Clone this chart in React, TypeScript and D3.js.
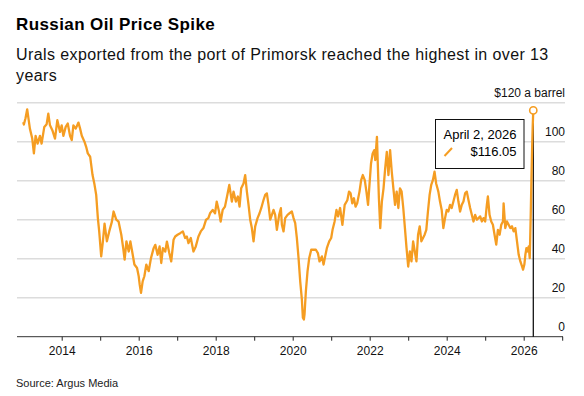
import React, { useEffect, useRef } from 'react';
import * as d3 from 'd3';

// Urals crude at Primorsk, $/bbl — [decimal year, price]
const uralsPrimorsk: [number, number][] = [
  [2013.000, 110.0], [2013.017, 108.8], [2013.060, 112.0], [2013.104, 116.6], [2013.174, 106.7],
  [2013.235, 101.6], [2013.278, 94.0], [2013.322, 103.0], [2013.374, 99.0], [2013.435, 103.0],
  [2013.478, 99.0], [2013.548, 107.6], [2013.609, 109.0], [2013.652, 114.4], [2013.696, 108.4],
  [2013.757, 105.9], [2013.826, 101.6], [2013.887, 111.0], [2013.957, 105.0], [2014.000, 108.4],
  [2014.043, 103.0], [2014.104, 107.6], [2014.157, 109.3], [2014.217, 103.0], [2014.261, 100.8],
  [2014.304, 108.4], [2014.365, 106.7], [2014.435, 109.8], [2014.478, 106.7], [2014.522, 103.0],
  [2014.591, 100.0], [2014.635, 97.4], [2014.678, 94.0], [2014.739, 92.3], [2014.800, 83.0],
  [2014.852, 78.0], [2014.896, 72.7], [2014.939, 60.8], [2014.974, 54.0], [2015.026, 41.2],
  [2015.070, 48.9], [2015.113, 58.0], [2015.174, 48.9], [2015.235, 54.0], [2015.304, 59.0],
  [2015.348, 64.2], [2015.417, 60.0], [2015.478, 59.0], [2015.548, 52.3], [2015.600, 45.0],
  [2015.635, 39.5], [2015.681, 48.9], [2015.741, 43.7], [2015.784, 48.9], [2015.845, 42.0],
  [2015.888, 37.0], [2015.957, 35.2], [2016.000, 31.0], [2016.026, 26.7], [2016.060, 22.5],
  [2016.103, 28.4], [2016.147, 31.0], [2016.198, 37.0], [2016.259, 33.6], [2016.319, 40.3],
  [2016.388, 45.4], [2016.431, 47.1], [2016.491, 42.0], [2016.543, 46.3], [2016.586, 37.8],
  [2016.629, 45.4], [2016.690, 43.7], [2016.733, 48.8], [2016.793, 43.0], [2016.845, 38.6],
  [2016.905, 49.7], [2016.948, 51.4], [2017.009, 52.3], [2017.078, 53.1], [2017.147, 54.0],
  [2017.207, 50.6], [2017.250, 51.4], [2017.293, 48.0], [2017.353, 50.6], [2017.422, 43.7],
  [2017.483, 46.3], [2017.552, 51.4], [2017.612, 54.0], [2017.681, 55.7], [2017.750, 60.0],
  [2017.810, 60.8], [2017.853, 63.3], [2017.922, 65.0], [2017.983, 63.3], [2018.026, 69.3],
  [2018.086, 64.2], [2018.129, 59.0], [2018.181, 65.0], [2018.241, 66.7], [2018.302, 72.7],
  [2018.353, 77.8], [2018.420, 69.3], [2018.463, 74.4], [2018.524, 69.3], [2018.576, 71.9],
  [2018.619, 66.7], [2018.662, 76.1], [2018.723, 78.6], [2018.766, 82.9], [2018.810, 74.4],
  [2018.853, 67.6], [2018.896, 60.0], [2018.939, 55.7], [2018.983, 48.9], [2019.026, 56.6],
  [2019.087, 60.8], [2019.139, 63.3], [2019.182, 65.9], [2019.242, 70.1], [2019.286, 72.7],
  [2019.329, 73.5], [2019.372, 67.6], [2019.416, 60.0], [2019.459, 62.5], [2019.502, 65.0],
  [2019.545, 62.5], [2019.589, 54.8], [2019.649, 62.5], [2019.693, 65.9], [2019.719, 57.4],
  [2019.762, 54.0], [2019.805, 60.8], [2019.866, 62.5], [2019.918, 63.3], [2019.978, 64.2],
  [2020.022, 60.8], [2020.065, 58.2], [2020.108, 50.6], [2020.152, 40.3], [2020.195, 28.4],
  [2020.238, 19.1], [2020.264, 9.7], [2020.290, 8.8], [2020.307, 11.4], [2020.342, 23.3],
  [2020.385, 33.5], [2020.429, 40.3], [2020.481, 44.6], [2020.541, 44.6], [2020.602, 44.6],
  [2020.654, 42.9], [2020.697, 38.6], [2020.758, 41.2], [2020.801, 37.0], [2020.844, 41.2],
  [2020.887, 45.4], [2020.948, 48.9], [2021.000, 50.6], [2021.035, 54.8], [2021.087, 59.0],
  [2021.137, 65.0], [2021.179, 61.7], [2021.231, 66.0], [2021.291, 57.4], [2021.350, 67.6],
  [2021.419, 70.0], [2021.462, 74.4], [2021.504, 73.5], [2021.547, 68.4], [2021.590, 71.0],
  [2021.632, 66.7], [2021.675, 68.4], [2021.735, 74.4], [2021.778, 80.3], [2021.821, 82.9],
  [2021.872, 80.3], [2021.915, 74.4], [2021.957, 67.6], [2022.000, 79.5], [2022.034, 88.8],
  [2022.077, 94.0], [2022.120, 95.7], [2022.145, 90.6], [2022.188, 102.5], [2022.214, 86.3],
  [2022.239, 71.0], [2022.274, 55.7], [2022.316, 69.3], [2022.359, 76.1], [2022.402, 86.3],
  [2022.444, 94.8], [2022.487, 82.9], [2022.530, 95.7], [2022.573, 84.6], [2022.615, 76.1],
  [2022.658, 67.6], [2022.701, 74.4], [2022.744, 66.0], [2022.786, 76.1], [2022.829, 74.4],
  [2022.872, 66.0], [2022.915, 55.7], [2022.957, 45.4], [2023.000, 36.0], [2023.043, 43.7],
  [2023.085, 38.6], [2023.128, 48.9], [2023.171, 43.7], [2023.214, 38.6], [2023.256, 52.3],
  [2023.299, 56.6], [2023.342, 48.9], [2023.385, 50.6], [2023.427, 52.3], [2023.470, 54.8],
  [2023.513, 64.2], [2023.556, 72.7], [2023.598, 77.8], [2023.641, 80.3], [2023.684, 84.6],
  [2023.726, 78.6], [2023.760, 76.1], [2023.783, 74.4], [2023.826, 69.3], [2023.870, 65.0],
  [2023.913, 55.7], [2023.957, 60.8], [2024.000, 65.0], [2024.043, 64.2], [2024.087, 67.6],
  [2024.130, 66.0], [2024.174, 69.3], [2024.217, 72.7], [2024.261, 75.3], [2024.304, 69.3],
  [2024.348, 64.2], [2024.391, 67.6], [2024.435, 69.3], [2024.478, 73.5], [2024.522, 74.4],
  [2024.565, 70.1], [2024.609, 66.0], [2024.652, 62.5], [2024.696, 59.1], [2024.739, 62.5],
  [2024.783, 60.0], [2024.826, 60.8], [2024.870, 61.7], [2024.913, 59.1], [2024.957, 60.8],
  [2025.000, 59.1], [2025.043, 67.6], [2025.070, 71.9], [2025.113, 62.5], [2025.157, 59.1],
  [2025.200, 57.4], [2025.243, 52.3], [2025.287, 47.2], [2025.330, 54.8], [2025.374, 52.3],
  [2025.417, 57.4], [2025.461, 59.1], [2025.478, 68.4], [2025.522, 55.7], [2025.565, 59.1],
  [2025.609, 57.4], [2025.652, 55.7], [2025.696, 56.6], [2025.739, 54.0], [2025.783, 55.7],
  [2025.826, 48.9], [2025.870, 42.0], [2025.913, 38.6], [2025.957, 36.1], [2025.983, 34.4],
  [2026.017, 37.0], [2026.043, 42.0], [2026.070, 45.4], [2026.096, 43.7], [2026.130, 46.3],
  [2026.157, 40.3], [2026.180, 60.0], [2026.200, 80.0], [2026.218, 96.0], [2026.234, 108.0],
  [2026.249, 116.05],
];

const yTicks = [0, 20, 40, 60, 80, 100, 120];
const tickYears = [2014, 2015, 2016, 2017, 2018, 2019, 2020, 2021, 2022, 2023, 2024, 2025, 2026, 2027];
const labelYears = [2014, 2016, 2018, 2020, 2022, 2024, 2026];

const calloutDate = 'April 2, 2026';
const calloutPrice = '$116.05';

const ORANGE = '#f59d22';
const FONT = '"Liberation Sans", Arial, Helvetica, sans-serif';

export default function App() {
  const ref = useRef<SVGSVGElement>(null);

  useEffect(() => {
    if (!ref.current) return;
    const svg = d3.select(ref.current);
    svg.selectAll('*').remove();

    const W = 584, H = 396;
    const plotLeft = 17, plotRight = 565, axisY = 336.7;

    svg.append('rect').attr('width', W).attr('height', H).attr('fill', '#fff');

    // titles
    svg.append('text').attr('x', 16).attr('y', 30)
      .attr('font-family', FONT).attr('font-weight', 700).attr('font-size', 17)
      .attr('letter-spacing', 0.4).attr('fill', '#000')
      .text('Russian Oil Price Spike');
    const sub = svg.append('text').attr('font-family', FONT).attr('font-size', 16)
      .attr('letter-spacing', 0.4).attr('fill', '#111');
    sub.append('tspan').attr('x', 16).attr('y', 60)
      .text('Urals exported from the port of Primorsk reached the highest in over 13');
    sub.append('tspan').attr('x', 16).attr('y', 81).text('years');

    const x = d3.scaleLinear().domain([2013, 2027]).range([23.2, 562.2]);
    const y = d3.scaleLinear().domain([0, 120]).range([axisY, 102.7]);

    // gridlines + right labels
    const grid = svg.append('g');
    grid.selectAll('line')
      .data(yTicks.filter(d => d > 0))
      .enter().append('line')
      .attr('x1', plotLeft).attr('x2', plotRight)
      .attr('y1', d => y(d)).attr('y2', d => y(d))
      .attr('stroke', '#dcdcdc').attr('stroke-width', 1.4);
    grid.selectAll('text')
      .data(yTicks)
      .enter().append('text')
      .attr('x', plotRight).attr('y', d => y(d) - 5.5)
      .attr('text-anchor', 'end')
      .attr('font-family', FONT).attr('font-size', 12).attr('fill', '#111')
      .text(d => (d === 120 ? '$120 a barrel' : String(d)));

    // x axis
    const xAxis = svg.append('g')
      .attr('transform', `translate(0,${axisY})`)
      .call(
        d3.axisBottom(x)
          .tickValues(tickYears)
          .tickSize(4)
          .tickSizeOuter(0)
          .tickFormat(d => (labelYears.includes(+d) ? String(d) : ''))
      );
    xAxis.select('.domain').remove();
    xAxis.selectAll('.tick line').attr('stroke', '#222');
    xAxis.selectAll('.tick text')
      .attr('font-family', FONT).attr('font-size', 12).attr('fill', '#111')
      .attr('dy', 0).attr('y', 18.5);
    svg.append('line')
      .attr('x1', plotLeft).attr('x2', 563)
      .attr('y1', axisY).attr('y2', axisY)
      .attr('stroke', '#333').attr('stroke-width', 1);

    const last = uralsPrimorsk[uralsPrimorsk.length - 1];

    // marker rule
    svg.append('line')
      .attr('x1', x(last[0])).attr('x2', x(last[0]))
      .attr('y1', y(last[1])).attr('y2', axisY)
      .attr('stroke', '#000').attr('stroke-width', 1.2);

    // price line
    const line = d3.line<[number, number]>()
      .x(d => x(d[0]))
      .y(d => y(d[1]));
    svg.append('path')
      .datum(uralsPrimorsk)
      .attr('fill', 'none')
      .attr('stroke', ORANGE)
      .attr('stroke-width', 2.3)
      .attr('stroke-linejoin', 'round')
      .attr('d', line);

    svg.append('circle')
      .attr('cx', x(last[0])).attr('cy', y(last[1])).attr('r', 3.6)
      .attr('fill', '#fff').attr('stroke', ORANGE).attr('stroke-width', 1.6);

    // callout box
    const box = svg.append('g').attr('transform', 'translate(435.5,119.5)');
    box.append('rect').attr('width', 88.5).attr('height', 49)
      .attr('fill', '#fff').attr('stroke', '#111').attr('stroke-width', 1);
    box.append('text').attr('x', 8).attr('y', 19.5)
      .attr('font-family', FONT).attr('font-size', 13).attr('fill', '#000')
      .text(calloutDate);
    box.append('line').attr('x1', 9).attr('y1', 36.5).attr('x2', 16.5).attr('y2', 28.5)
      .attr('stroke', ORANGE).attr('stroke-width', 2);
    box.append('text').attr('x', 81).attr('y', 36).attr('text-anchor', 'end')
      .attr('font-family', FONT).attr('font-size', 13).attr('fill', '#000')
      .text(calloutPrice);

    svg.append('text').attr('x', 16).attr('y', 387)
      .attr('font-family', FONT).attr('font-size', 11).attr('fill', '#222')
      .text('Source: Argus Media');
  }, []);

  return (
    <div style={{ position: 'absolute', left: 0, top: 0 }}>
      <svg ref={ref} width={584} height={396} style={{ display: 'block' }} />
    </div>
  );
}
